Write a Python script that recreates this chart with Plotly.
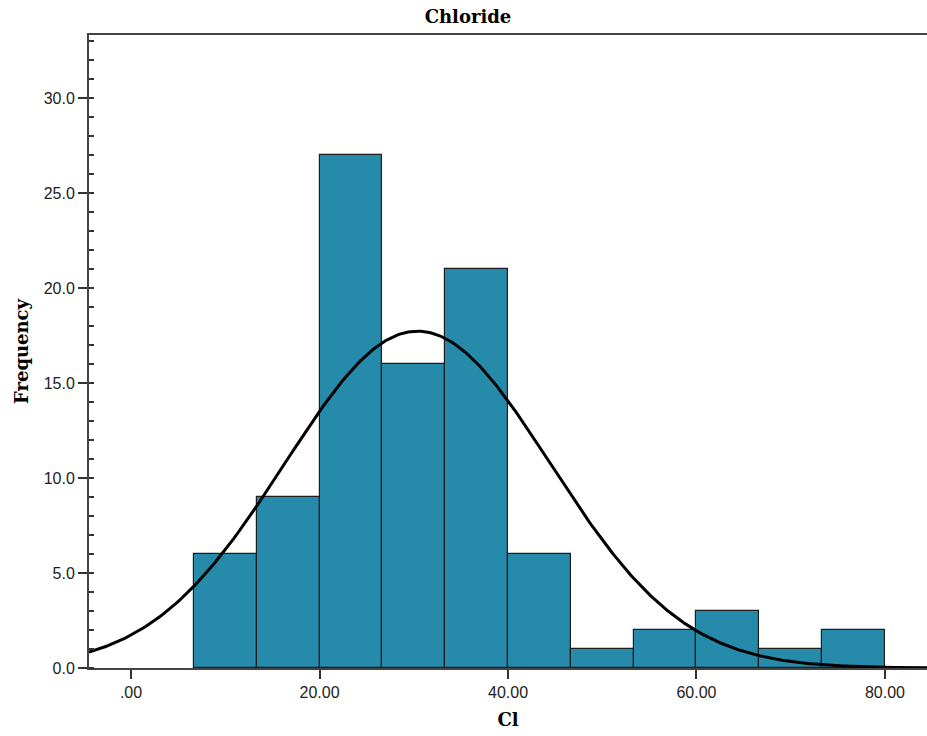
import numpy as np
import plotly.graph_objects as go

# Data
bin_start = 20 / 3
bin_width = 20 / 3
counts = [6, 9, 27, 16, 21, 6, 1, 2, 3, 1, 2]
fit_mean = 30.4
fit_sd = 14.1
n_total = sum(counts)

x_tick_vals = [0, 20, 40, 60, 80]
x_tick_text = [".00", "20.00", "40.00", "60.00", "80.00"]
y_tick_vals = [0, 5, 10, 15, 20, 25, 30]
y_tick_text = ["0.0", "5.0", "10.0", "15.0", "20.0", "25.0", "30.0"]

centers = [bin_start + bin_width * (i + 0.5) for i in range(len(counts))]

x_range = [-4.46, 84.46]
y_range = [0, 33.32]

xc = np.linspace(x_range[0], x_range[1], 400)
yc = n_total * bin_width / (fit_sd * np.sqrt(2 * np.pi)) * np.exp(-0.5 * ((xc - fit_mean) / fit_sd) ** 2)

fig = go.Figure()
fig.add_trace(go.Bar(
    x=centers, y=counts, width=bin_width,
    marker=dict(color="rgb(38,138,171)", line=dict(color="#1e1e1e", width=1.2)),
    showlegend=False,
))
fig.add_trace(go.Scatter(
    x=xc, y=yc, mode="lines",
    line=dict(color="black", width=3),
    showlegend=False,
))

serif = "DejaVu Serif, Liberation Serif, serif"
W, H = 927, 736
fig.update_layout(
    width=W, height=H,
    margin=dict(l=89, r=0, t=35, b=68),
    plot_bgcolor="white", paper_bgcolor="white",
    bargap=0,
    title=dict(text="<b>Chloride</b>", x=468 / W, xref="container", xanchor="center",
               y=1 - 17 / H, yref="container", yanchor="middle",
               font=dict(family=serif, size=18, color="black")),
    font=dict(family="Liberation Sans, Arial, sans-serif", size=16, color="#222"),
)
fig.update_xaxes(
    range=x_range, tickvals=x_tick_vals, ticktext=x_tick_text,
    ticks="outside", ticklen=9, tickwidth=1.5, tickcolor="#333",
    showline=True, linecolor="#444", linewidth=2, mirror=True,
    showgrid=False, zeroline=False,
    title=dict(text="<b>Cl</b>", font=dict(family=serif, size=18, color="black"), standoff=13),
)
fig.update_yaxes(
    range=y_range, tickvals=y_tick_vals, ticktext=y_tick_text,
    ticks="outside", ticklen=9, tickwidth=1.5, tickcolor="#333",
    minor=dict(ticks="inside", dtick=1, ticklen=5, tickwidth=1.5, tickcolor="#333"),
    showline=True, linecolor="#444", linewidth=2,
    showgrid=False, zeroline=False,
    title=dict(text="<b>Frequency</b>", font=dict(family=serif, size=18, color="black"), standoff=10),
)

fig.write_html(
    "out.html",
    config={"displayModeBar": False},
    post_script="document.body.style.margin='0';document.body.style.overflow='hidden';",
)
